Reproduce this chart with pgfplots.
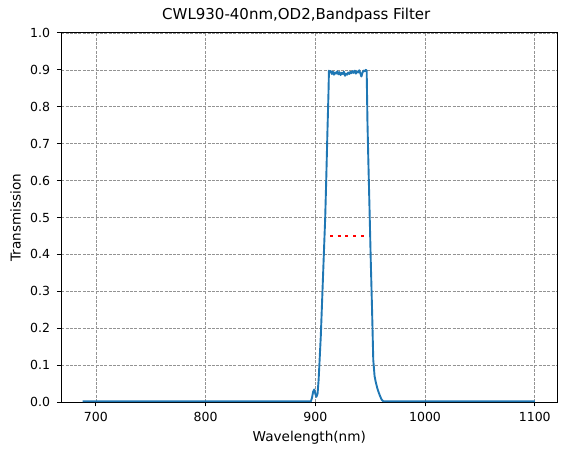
\documentclass[border=0pt]{standalone}
\usepackage{fontspec}
\setmainfont{DejaVu Sans}
\usepackage{pgfplots}
\pgfplotsset{compat=1.18}
\usetikzlibrary{calc}
\definecolor{mplblue}{HTML}{1F77B4}

\begin{document}
\begin{tikzpicture}
\begin{axis}[
  name=ax,
  at={(0pt,0pt)}, anchor=south west,
  scale only axis,
  width=496pt, height=369pt,
  xmin=668.45, xmax=1120.55,
  ymin=0, ymax=1,
  xtick={700,800,900,1000,1100},
  ytick={0,0.1,0.2,0.3,0.4,0.5,0.6,0.7,0.8,0.9,1.0},
  /pgf/number format/assume math mode=true,
  x tick label style={/pgf/number format/1000 sep={}},
  yticklabel style={/pgf/number format/fixed, /pgf/number format/fixed zerofill, /pgf/number format/precision=1, xshift=-3.4pt},
  tick label style={font=\fontsize{12.5}{15}\selectfont},
  xticklabel style={yshift=-2.7pt},
  tick align=outside,
  xtick pos=bottom, ytick pos=left,
  major tick length=4.4pt,
  tick style={black, line width=1pt},
  axis line style={line width=1pt},
  grid=major,
  major grid style={gray!85, line width=0.6pt, dash pattern=on 3pt off 1.3pt},
  title={CWL930-40nm,OD2,Bandpass Filter},
  title style={font=\fontsize{15}{18}\selectfont, at={(axis description cs:0.5,1)}, anchor=base, yshift=7pt, xshift=-13pt},
  xlabel={Wavelength(nm)},
  xlabel style={font=\fontsize{13.6}{16}\selectfont, at={(axis description cs:0.5,0)}, anchor=base, yshift=-39.7pt},
  ylabel={Transmission},
  ylabel style={font=\fontsize{13.6}{16}\selectfont, at={(axis description cs:0,0.5)}, anchor=base, yshift=40.6pt},
]
% measured spectrum
\addplot[mplblue, line width=1.9pt, line join=round] coordinates {
(688,0.002) (750,0.002) (800,0.002) (850,0.002) (896,0.002)
(897,0.012) (898,0.028) (899,0.034) (900,0.022) (901,0.014)
(902,0.022) (903,0.060) (904,0.120) (905,0.180) (906,0.260)
(907,0.340) (908,0.420) (909,0.500) (910,0.610) (911,0.730)
(912,0.840) (912.4,0.898)
(913,0.893) (914,0.897) (915,0.889) (916,0.895) (917,0.887)
(918,0.893) (919,0.890) (920,0.896) (921,0.888) (922,0.894)
(923,0.886) (924,0.892) (925,0.889) (926,0.895) (927,0.884)
(928,0.890) (929,0.887) (930,0.893) (931,0.889) (932,0.895)
(933,0.891) (934,0.897) (935,0.892) (936,0.898) (937,0.890)
(938,0.896) (939,0.893) (940,0.899) (941,0.891) (942,0.882)
(943,0.893) (944,0.898) (945,0.896) (946,0.900) (946.8,0.898)
(947.5,0.760) (948.3,0.656) (949.5,0.510) (950.5,0.385)
(951.7,0.250) (952.8,0.114) (954,0.070) (955,0.055)
(956.5,0.037) (957.5,0.028) (959,0.016) (960.5,0.006)
(962,0.002) (1000,0.002) (1050,0.002) (1100,0.002)
};
% centre marker
\addplot[red, line width=2.5pt, dash pattern=on 2.8pt off 4.9pt] coordinates {
(913.4,0.45) (944.4,0.45)
};
\end{axis}
\pgfresetboundingbox
\useasboundingbox ($(ax.south west)+(-61.3pt,-53pt)$) rectangle ($(ax.north east)+(9.7pt,33pt)$);
\end{tikzpicture}
\end{document}
